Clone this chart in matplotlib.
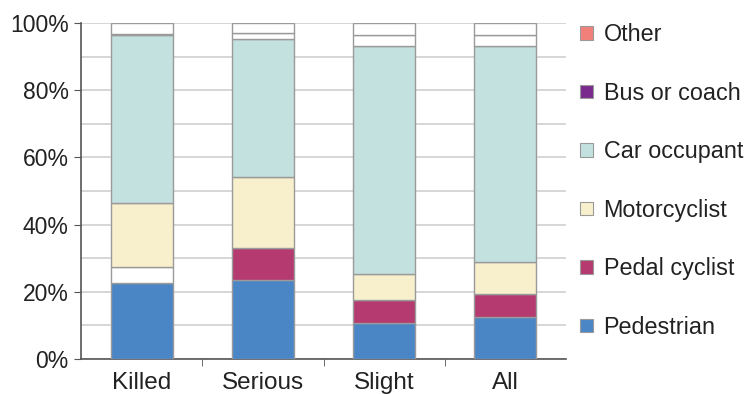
import numpy as np
import matplotlib
matplotlib.use("Agg")
import matplotlib.pyplot as plt
from matplotlib.patches import Patch

plt.rcParams["font.family"] = ["Liberation Sans", "DejaVu Sans"]

categories = ["Killed", "Serious", "Slight", "All"]
series = ["Pedestrian", "Pedal cyclist", "Motorcyclist", "Car occupant", "Bus or coach", "Other"]

# percentage share of casualties by road user type
pedestrian = [22.5, 23.4, 10.8, 12.4]
pedal_cyclist = [4.8, 9.7, 6.9, 7.0]
motorcyclist = [19.2, 21.1, 7.6, 9.4]
car_occupant = [49.8, 41.0, 67.8, 64.5]
bus_or_coach = [0.3, 1.8, 3.3, 3.2]
other = [3.4, 3.0, 3.6, 3.5]

legend_colors = ["#4a86c6", "#b53a6f", "#f8f0cc", "#c2e1df", "#7a2a8c", "#f2807a"]
# fills used for the bars themselves (some segments are drawn blank)
bar_colors = [
    ["#4a86c6"] * 4,
    ["#ffffff", "#b53a6f", "#b53a6f", "#b53a6f"],
    ["#f8f0cc"] * 4,
    ["#c2e1df"] * 4,
    ["#ffffff"] * 4,
    ["#ffffff"] * 4,
]

data = np.array([pedestrian, pedal_cyclist, motorcyclist, car_occupant, bus_or_coach, other])
data = data / data.sum(axis=0) * 100

fig = plt.figure(figsize=(7.48, 3.94), dpi=100)
ax = fig.add_axes([0.1083, 0.0888, 0.6484, 0.8528])

x = np.arange(len(categories))
bottom = np.zeros(len(categories))
for vals, cols in zip(data, bar_colors):
    ax.bar(x, vals, bottom=bottom, width=0.51, color=cols,
           edgecolor="#9a9a9a", linewidth=1.0, zorder=3)
    bottom += vals

ax.set_xlim(-0.5, len(categories) - 0.5)
ax.set_ylim(0, 100)
ax.set_yticks(np.arange(0, 101, 20))
ax.set_yticklabels([f"{v}%" for v in range(0, 101, 20)], fontsize=16.5, color="#222222")
ax.set_yticks(np.arange(10, 100, 20), minor=True)
ax.yaxis.grid(True, which="both", color="#d0d0d0", linewidth=1.2, zorder=0)
ax.tick_params(axis="y", which="major", length=5, color="#555555", pad=4)
ax.tick_params(axis="y", which="minor", length=0)

ax.set_xticks(x)
ax.set_xticklabels(categories, fontsize=17.5, color="#222222")
ax.tick_params(axis="x", which="major", length=0, pad=9)
ax.set_xticks(np.arange(0.5, len(categories) - 0.5, 1), minor=True)
ax.tick_params(axis="x", which="minor", length=5, direction="out", color="#555555")

for side in ("top", "right"):
    ax.spines[side].set_visible(False)
for side in ("left", "bottom"):
    ax.spines[side].set_color("#555555")
    ax.spines[side].set_linewidth(1.2)

handles = [Patch(facecolor=c, edgecolor="#9a9a9a", linewidth=0.8) for c in legend_colors]
leg = fig.legend(handles[::-1], series[::-1], loc="upper left",
                 bbox_to_anchor=(0.776, 0.941), frameon=False, fontsize=16.8,
                 handlelength=0.52, handleheight=0.52, handletextpad=0.47,
                 labelspacing=1.52, borderaxespad=0, borderpad=0)
for t in leg.get_texts():
    t.set_color("#222222")

fig.savefig("out.png", dpi=100)
